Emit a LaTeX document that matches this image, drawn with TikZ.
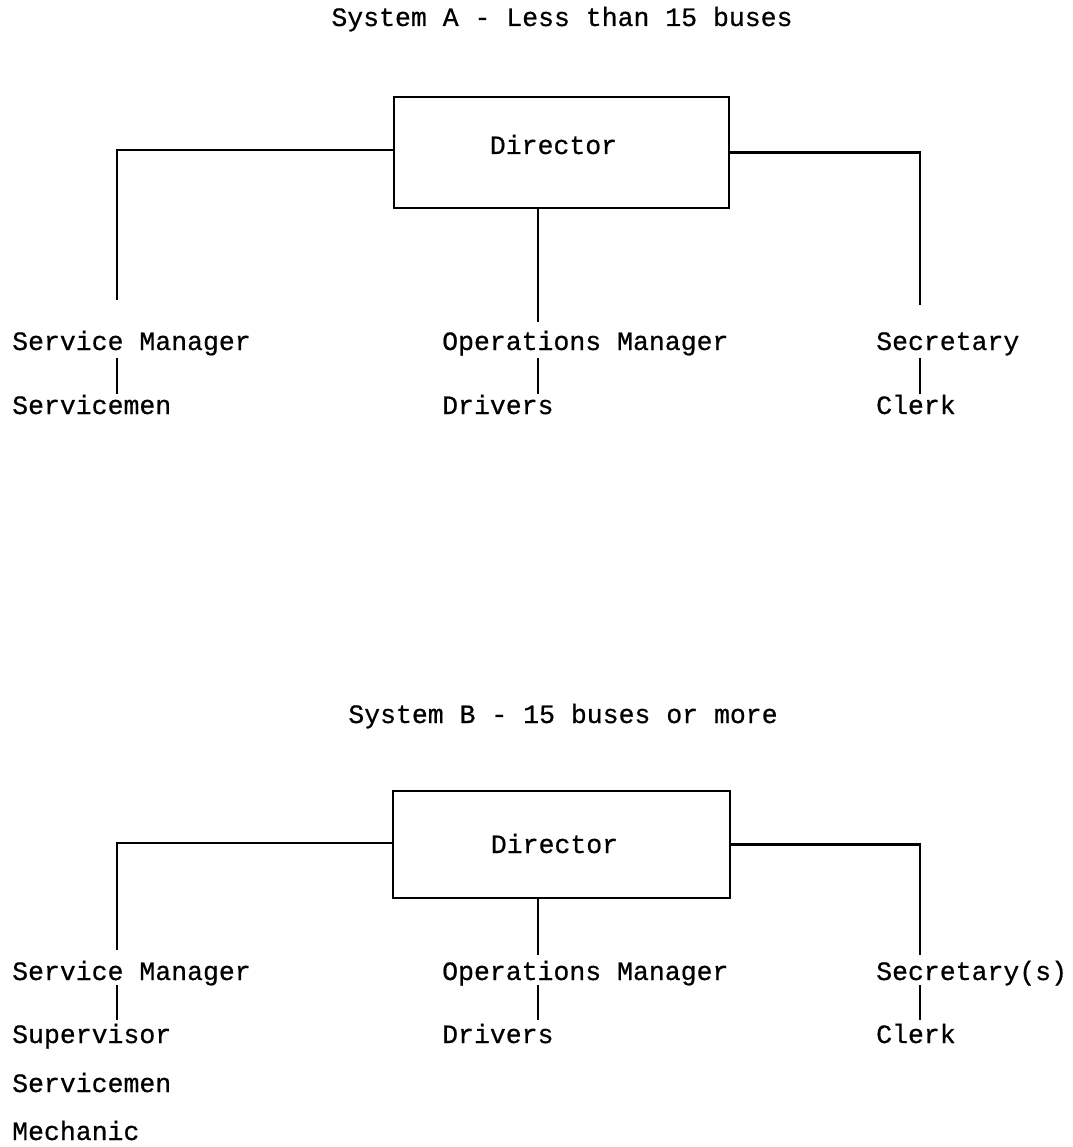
\documentclass[tikz,border=0pt]{standalone}
\usepackage{fontspec}
\setmonofont[FakeBold=0.6]{Liberation Mono}
\usetikzlibrary{calc}
\begin{document}
\begin{tikzpicture}[x=1pt,y=-1pt,
  lbl/.style={anchor=base west,inner sep=0pt,font=\ttfamily\fontsize{26.5}{30}\selectfont},
  ctr/.style={anchor=base,inner sep=0pt,font=\ttfamily\fontsize{26.5}{30}\selectfont},
  conn/.style={line width=2.2pt},
  boxst/.style={draw,line width=2.2pt,inner sep=0pt,minimum width=335pt}]
\useasboundingbox (0,0) rectangle (1072,1147);
\coordinate (xl) at (117,0);
\coordinate (xm) at (538,0);
\coordinate (xr) at (920,0);
% ---------- System A ----------
\node[ctr] (titleA) at (562,26) {System A - Less than 15 buses};
\node[boxst,minimum height=111pt] (boxA) at (561.5,152.5) {};
\node[ctr] (dirA) at (553.5,154) {Director};
\node[lbl] (smA) at (12,350) {Service Manager};
\node[lbl] (omA) at (442,350) {Operations Manager};
\node[lbl] (seA) at (876,350) {Secretary};
\node[lbl] (svA) at (12,414) {Servicemen};
\node[lbl] (drA) at (442,414) {Drivers};
\node[lbl] (clA) at (876,414) {Clerk};
\draw[conn] ([yshift=2.5pt]boxA.west) -| ($(smA.base -| xl)+(0,-50)$);
\draw[conn] (boxA.south -| xm) -- ($(omA.base -| xm)+(0,-28)$);
\draw[conn] (boxA.east) -| ($(seA.base -| xr)+(0,-45)$);
\draw[conn] ($(smA.base -| xl)+(0,8)$) -- ($(svA.base -| xl)+(0,-20)$);
\draw[conn] ($(omA.base -| xm)+(0,8)$) -- ($(drA.base -| xm)+(0,-20)$);
\draw[conn] ($(seA.base -| xr)+(0,8)$) -- ($(clA.base -| xr)+(0,-20)$);
% ---------- System B ----------
\node[ctr] (titleB) at (563,723) {System B - 15 buses or more};
\node[boxst,minimum width=337pt,minimum height=107pt] (boxB) at (561.5,844.5) {};
\node[ctr] (dirB) at (554.5,853) {Director};
\node[lbl] (smB) at (12,980) {Service Manager};
\node[lbl] (omB) at (442,980) {Operations Manager};
\node[lbl] (seB) at (876,980) {Secretary(s)};
\node[lbl] (spB) at (12,1043) {Supervisor};
\node[lbl] (drB) at (442,1043) {Drivers};
\node[lbl] (clB) at (876,1043) {Clerk};
\node[lbl] (svB) at (12,1092) {Servicemen};
\node[lbl] (mcB) at (12,1140) {Mechanic};
\draw[conn] ([yshift=1.5pt]boxB.west) -| ($(smB.base -| xl)+(0,-30)$);
\draw[conn] (boxB.south -| xm) -- ($(omB.base -| xm)+(0,-25)$);
\draw[conn] (boxB.east) -| ($(seB.base -| xr)+(0,-25)$);
\draw[conn] ($(smB.base -| xl)+(0,5)$) -- ($(spB.base -| xl)+(0,-23)$);
\draw[conn] ($(omB.base -| xm)+(0,5)$) -- ($(drB.base -| xm)+(0,-23)$);
\draw[conn] ($(seB.base -| xr)+(0,5)$) -- ($(clB.base -| xr)+(0,-23)$);
\end{tikzpicture}
\end{document}
